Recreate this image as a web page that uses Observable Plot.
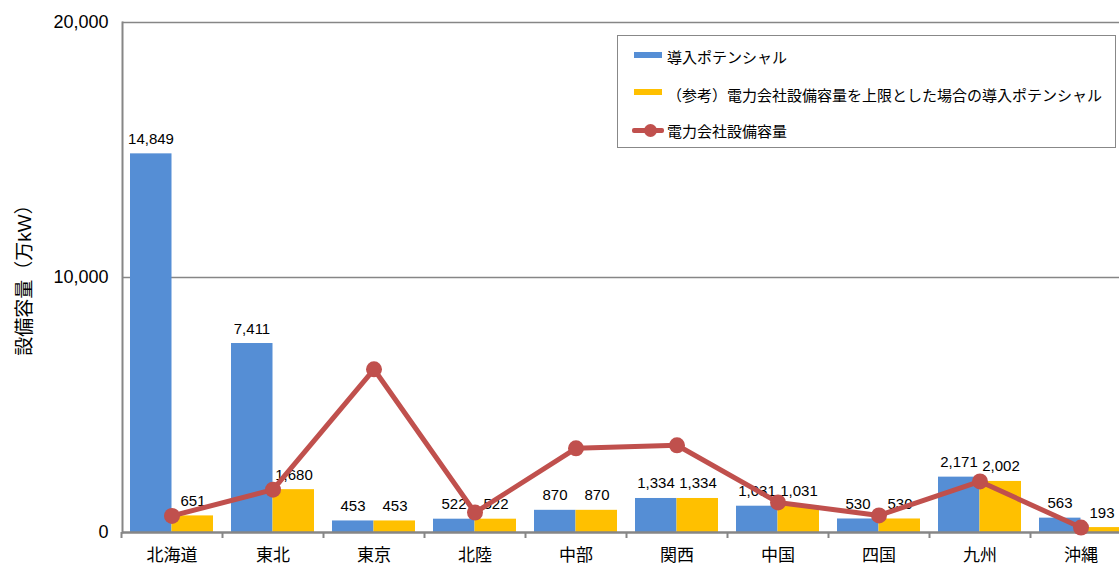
<!DOCTYPE html>
<html><head><meta charset="utf-8">
<script src="https://cdn.jsdelivr.net/npm/d3@7"></script>
<script src="https://cdn.jsdelivr.net/npm/@observablehq/plot@0.6"></script>
<style>
body{margin:0;background:#fff;}
#wrap{position:relative;width:1119px;height:566px;font-family:"Liberation Sans",Arial,"Noto Sans CJK JP",sans-serif;color:#000;}
#legend{position:absolute;left:617px;top:35px;width:499px;height:113px;border:1.5px solid #888;box-sizing:border-box;background:#fff;font-size:15px;}
.sw{position:absolute;}
.tx{position:absolute;left:49px;height:20px;line-height:20px;white-space:nowrap;}
</style></head>
<body>
<div id="wrap"><div id="chart"></div>
<div id="legend">
  <div class="sw" style="left:16px;top:16px;width:28px;height:6px;background:#558ed5"></div>
  <div class="tx" style="top:12px">導入ポテンシャル</div>
  <div class="sw" style="left:16px;top:53px;width:28px;height:6px;background:#ffc000"></div>
  <div class="tx" style="top:50px">（参考）電力会社設備容量を上限とした場合の導入ポテンシャル</div>
  <div class="sw" style="left:14px;top:92px;width:32px;height:5px;background:#c0504d;border-radius:2px"></div>
  <div class="sw" style="left:26px;top:88px;width:13px;height:13px;background:#c0504d;border-radius:50%"></div>
  <div class="tx" style="top:86px">電力会社設備容量</div>
</div>
</div>
<script>
const regions = ["北海道","東北","東京","北陸","中部","関西","中国","四国","九州","沖縄"];
const potential = [14849,7411,453,522,870,1334,1031,530,2171,563];
const capped = [651,1680,453,522,870,1334,1031,530,2002,193];
const capacity = [651,1680,6400,780,3300,3420,1180,670,2002,193];
const yTicks = [0,10000,20000];
const yTitle = "設備容量（万kW）";
const rows = regions.map((r,i)=>({region:r, potential:potential[i], capped:capped[i], capacity:capacity[i]}));
const fmt = d3.format(",");
const font = '"Liberation Sans",Arial,"Noto Sans CJK JP",sans-serif';
const plot = Plot.plot({
  width:1119, height:566, marginTop:22, marginBottom:34, marginLeft:122, marginRight:0,
  style:{fontFamily:font, background:"transparent", color:"#000", overflow:"hidden"},
  x:{type:"band", domain:regions, range:[121,1131], padding:0, label:null},
  y:{domain:[0,20000], label:null},
  marks:[
    Plot.ruleY([10000,20000],{stroke:"#868686",strokeWidth:1.5}),
    Plot.barY(rows,{x:"region",y:"potential",fill:"#558ed5",insetLeft:9,insetRight:50.5}),
    Plot.barY(rows,{x:"region",y:"capped",fill:"#ffc000",insetLeft:50.5,insetRight:9}),
    Plot.text(rows,{x:"region",y:"potential",text:d=>fmt(d.potential),dx:-21,dy:-10,lineAnchor:"bottom",fontSize:15,fill:"#000"}),
    Plot.text(rows,{x:"region",y:"capped",text:d=>fmt(d.capped),dx:21,dy:-10,lineAnchor:"bottom",fontSize:15,fill:"#000"}),
    Plot.ruleY([0],{stroke:"#868686",strokeWidth:2.5}),
    Plot.axisX({tickSize:6, tickFormat:()=>"", dx:-50.5, stroke:"#868686", strokeWidth:2, label:null}),
    Plot.axisX({tickSize:0, tickPadding:16, fontSize:17, fill:"#000", label:null}),
    Plot.axisY({ticks:yTicks, tickSize:0, tickPadding:14, tickFormat:fmt, fontSize:18, fill:"#000", label:null}),
    Plot.frame({anchor:"left",stroke:"#868686",strokeWidth:2}),
    Plot.line(rows,{x:"region",y:"capacity",stroke:"#c0504d",strokeWidth:5}),
    Plot.dot(rows,{x:"region",y:"capacity",r:8,fill:"#c0504d"}),
    Plot.text([yTitle],{frameAnchor:"left",dx:-98,dy:-2,rotate:-90,textAnchor:"middle",fontSize:19,fill:"#000"})
  ]
});
document.getElementById("chart").appendChild(plot);
</script>
</body></html>
